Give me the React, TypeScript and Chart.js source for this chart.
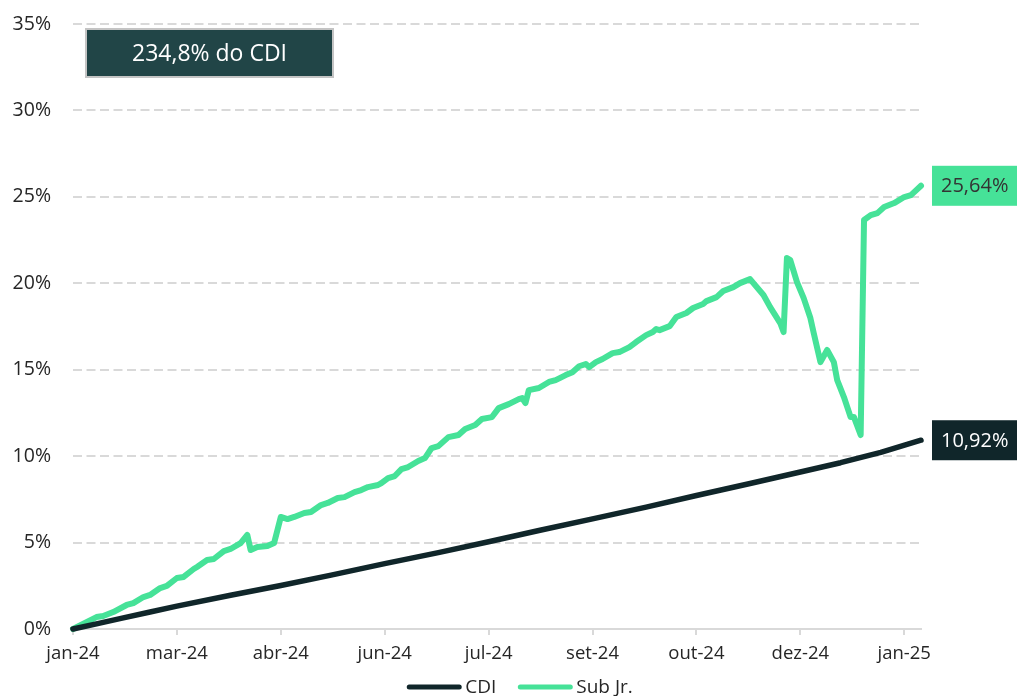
import { useEffect, useRef } from "react";
import { Chart, registerables } from "chart.js";

Chart.register(...registerables);

// x = business-day index since start of Jan 2024
const tickLabels = ["jan-24", "mar-24", "abr-24", "jun-24", "jul-24", "set-24", "out-24", "dez-24", "jan-25"];
const tickStep = 31;
const lastIndex = 253;
const yTickValues = [0, 5, 10, 15, 20, 25, 30, 35];

const cdiDays = [0, 7, 14, 23, 31, 47, 62, 77, 93, 109, 124, 139, 155, 171, 186, 202, 217, 229, 241, 253];
const cdiValues = [0, 0.3, 0.6, 0.98, 1.32, 1.95, 2.52, 3.12, 3.78, 4.42, 5.05, 5.7, 6.37, 7.05, 7.72, 8.42, 9.08, 9.62, 10.22, 10.92];

const subJrDays = [
  0, 7, 9, 12, 16, 18, 21, 23, 26, 28, 31, 33, 36, 37, 40, 42, 45, 47, 50, 52, 53, 55, 58, 60, 62, 64, 66, 69, 71, 74, 76,
  79, 81, 84, 86, 88, 91, 92, 94, 96, 98, 100, 103, 105, 107, 109, 112, 115, 117, 120, 122, 125, 127, 130, 133, 134, 135,
  136, 139, 142, 144, 147, 149, 151, 153, 154, 156, 158, 161, 163, 166, 168, 171, 173, 174, 175, 178, 180, 183, 185, 188,
  189, 192, 194, 197, 199, 202, 203, 206, 208, 211, 212, 213, 214, 216, 218, 220, 221, 223, 225, 227, 228, 230, 232, 233,
  235, 236, 238, 240, 242, 245, 248, 250, 253,
];
const subJrValues = [
  0, 0.69, 0.75, 0.98, 1.39, 1.5, 1.85, 1.97, 2.37, 2.49, 2.95, 3.01, 3.47, 3.59, 3.99, 4.05, 4.51, 4.63, 4.97, 5.44, 4.57,
  4.74, 4.8, 4.97, 6.48, 6.36, 6.48, 6.71, 6.77, 7.17, 7.29,
  7.58, 7.63, 7.92, 8.04, 8.21, 8.33, 8.44, 8.73, 8.85, 9.25, 9.37, 9.72, 9.89, 10.47, 10.58, 11.1, 11.22, 11.57, 11.8,
  12.15, 12.26, 12.78, 13.01, 13.3, 13.36, 13.07,
  13.82, 13.94, 14.29, 14.4, 14.69, 14.86, 15.2, 15.33, 15.15, 15.44, 15.62, 15.96, 16.02, 16.31, 16.6, 17.0, 17.18, 17.35,
  17.29, 17.52, 18.05, 18.28, 18.57, 18.8,
  18.97, 19.2, 19.55, 19.78, 20.01, 20.24, 20.01, 19.32, 18.62, 17.7, 17.18, 21.46, 21.34, 20.07, 19.14, 17.99, 17.12,
  15.44, 16.14, 15.44, 14.4, 13.42, 12.26, 12.26,
  11.22, 23.66, 23.94, 24.06, 24.41, 24.64, 24.99, 25.1, 25.64,
];

const seriesNames = ["CDI", "Sub Jr."];
const annotationText = "234,8% do CDI";

const GREEN = "#46E298";
const DARK = "#10262A";
const FONT = '"Open Sans", "Noto Sans", sans-serif';

const fmtPct = (v: number) => v.toFixed(2).replace(".", ",") + "%";

const overlayPlugin = {
  id: "overlay",
  afterDatasetsDraw(chart: any) {
    const ctx = chart.ctx as CanvasRenderingContext2D;
    const area = chart.chartArea;
    ctx.save();

    // annotation box
    const bx = area.left + 13;
    const by = area.top + 5;
    const bw = 247;
    const bh = 48;
    ctx.fillStyle = "#214547";
    ctx.fillRect(bx, by, bw, bh);
    ctx.strokeStyle = "#c4c4c4";
    ctx.lineWidth = 2;
    ctx.strokeRect(bx, by, bw, bh);
    ctx.fillStyle = "#ffffff";
    ctx.font = `23px ${FONT}`;
    ctx.textAlign = "center";
    ctx.textBaseline = "middle";
    ctx.fillText(annotationText, bx + bw / 2, by + bh / 2 + 1);

    // end-value labels
    chart.data.datasets.forEach((ds: any, i: number) => {
      const meta = chart.getDatasetMeta(i);
      const pt = meta.data[meta.data.length - 1];
      const last = ds.data[ds.data.length - 1].y;
      const lx = pt.x + 11;
      const w = 86;
      const h = 40;
      ctx.fillStyle = ds.borderColor;
      ctx.fillRect(lx, pt.y - h / 2, w, h);
      ctx.fillStyle = i === 0 ? "#ffffff" : "#333333";
      ctx.font = `20px ${FONT}`;
      ctx.textAlign = "left";
      ctx.textBaseline = "middle";
      ctx.fillText(fmtPct(last), lx + 9, pt.y + 1);
    });

    // legend
    ctx.font = `19px ${FONT}`;
    const lineLen = 54;
    const gapText = 4;
    const gapItem = 22;
    const widths = seriesNames.map((n) => ctx.measureText(n).width);
    const total = widths.reduce((a, w) => a + lineLen + gapText + w, 0) + gapItem * (seriesNames.length - 1);
    let x = 520 - total / 2;
    const ly = 687;
    chart.data.datasets.forEach((ds: any, i: number) => {
      ctx.strokeStyle = ds.borderColor;
      ctx.lineWidth = 5;
      ctx.lineCap = "round";
      ctx.beginPath();
      ctx.moveTo(x + 2, ly);
      ctx.lineTo(x + lineLen - 2, ly);
      ctx.stroke();
      ctx.fillStyle = "#262626";
      ctx.textAlign = "left";
      ctx.textBaseline = "middle";
      ctx.fillText(seriesNames[i], x + lineLen + gapText, ly + 1);
      x += lineLen + gapText + widths[i] + gapItem;
    });

    ctx.restore();
  },
};

export default function App() {
  const canvasRef = useRef<HTMLCanvasElement | null>(null);

  useEffect(() => {
    if (!canvasRef.current) return;
    const chart = new Chart(canvasRef.current, {
      type: "line",
      data: {
        datasets: [
          {
            label: seriesNames[0],
            data: cdiDays.map((d, i) => ({ x: d, y: cdiValues[i] })),
            borderColor: DARK,
            backgroundColor: DARK,
            borderWidth: 5.5,
            pointRadius: 0,
            tension: 0,
            borderCapStyle: "round",
            borderJoinStyle: "round",
            clip: 8,
          },
          {
            label: seriesNames[1],
            data: subJrDays.map((d, i) => ({ x: d, y: subJrValues[i] })),
            borderColor: GREEN,
            backgroundColor: GREEN,
            borderWidth: 6,
            pointRadius: 0,
            tension: 0,
            borderCapStyle: "round",
            borderJoinStyle: "round",
            clip: 8,
          },
        ],
      },
      options: {
        responsive: false,
        animation: false,
        layout: { padding: { left: 0, right: 96, top: 24, bottom: 17 } },
        plugins: { legend: { display: false }, tooltip: { enabled: false } },
        scales: {
          x: {
            type: "linear",
            min: 0,
            max: lastIndex,
            afterBuildTicks: (scale: any) => {
              scale.ticks = tickLabels.map((_, i) => ({ value: i * tickStep }));
            },
            afterFit: (scale: any) => {
              scale.height = 50;
            },
            ticks: {
              autoSkip: false,
              maxRotation: 0,
              padding: 8,
              color: "#262626",
              font: { family: FONT, size: 18.5 },
              callback: (_v: any, i: number) => tickLabels[i],
            },
            grid: {
              display: true,
              drawOnChartArea: false,
              drawTicks: true,
              tickLength: 6,
              color: "#d9d9d9",
              lineWidth: 2,
            },
            border: { display: true, color: "#d9d9d9", width: 2 },
          },
          y: {
            type: "linear",
            min: 0,
            max: 35,
            afterBuildTicks: (scale: any) => {
              scale.ticks = yTickValues.map((v) => ({ value: v }));
            },
            afterFit: (scale: any) => {
              scale.width = 73;
              scale.paddingTop = 0;
              scale.paddingBottom = 0;
            },
            ticks: {
              padding: 22,
              color: "#262626",
              font: { family: FONT, size: 19.5 },
              callback: (v: any) => `${v}%`,
            },
            grid: {
              display: true,
              drawTicks: false,
              color: (c: any) => (c.tick && c.tick.value === 0 ? "rgba(0,0,0,0)" : "#d9d9d9"),
              lineWidth: 2,
            },
            border: { display: false, dash: [9, 4.5] },
          },
        },
      },
      plugins: [overlayPlugin],
    });
    return () => chart.destroy();
  }, []);

  return (
    <div style={{ position: "absolute", left: 0, top: 0, width: 1017, height: 696, background: "#fff" }}>
      <canvas ref={canvasRef} width={1017} height={696} />
    </div>
  );
}
